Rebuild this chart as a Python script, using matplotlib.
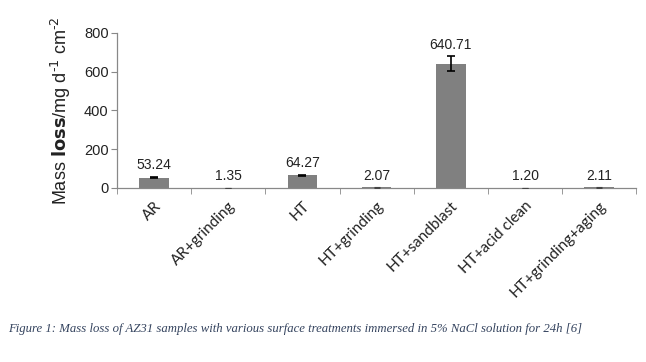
import numpy as np
import matplotlib
matplotlib.use("Agg")
import matplotlib.pyplot as plt

# data
treatments = ["AR", "AR+grinding", "HT", "HT+grinding", "HT+sandblast",
              "HT+acid clean", "HT+grinding+aging"]
mass_loss = [53.24, 1.35, 64.27, 2.07, 640.71, 1.20, 2.11]
errors = [2, 0.2, 3, 0.3, 38, 0.2, 0.5]
labels = ["53.24", "1.35", "64.27", "2.07", "640.71", "1.20", "2.11"]
yticks = [0, 200, 400, 600, 800]

fig = plt.figure(figsize=(6.46, 3.62), dpi=100)
ax = fig.add_axes([0.181, 0.481, 0.804, 0.428])

x = np.arange(len(treatments))
vals = np.array(mass_loss)
errs = np.array(errors)
big = errs > 1
ax.bar(x, vals, width=0.4, color="#808080", zorder=2)
ax.errorbar(x[big], vals[big], yerr=errs[big], fmt="none", ecolor="black",
            elinewidth=1.2, capsize=3, capthick=1.2, zorder=3)
# tiny error bars only show as a short dark dash
ax.errorbar(x[~big], vals[~big], yerr=errs[~big], fmt="none",
            ecolor="#444444", elinewidth=0.8, capsize=2, capthick=0.8, zorder=3)

for xi, v, e, lab in zip(x, mass_loss, errors, labels):
    ax.annotate(lab, (xi, v + e), xytext=(0, 3.5), textcoords="offset points",
                ha="center", va="bottom", fontsize=10,
                family="Liberation Sans", color="#222222")

ax.set_xlim(-0.5, len(treatments) - 0.5)
ax.set_ylim(0, 800)
ax.set_yticks(yticks)
ax.set_yticklabels([str(t) for t in yticks], fontsize=10.5,
                   family="Liberation Sans", color="#222222")

ax.set_xticks(x)
ax.set_xticklabels(treatments, rotation=45, ha="right", rotation_mode="anchor",
                   fontsize=11, family="Lato", color="#222222")
ax.tick_params(axis="x", which="major", length=0, pad=8)
ax.set_xticks(np.arange(-0.5, len(treatments)), minor=True)
ax.tick_params(axis="x", which="minor", length=4, color="#888888")
ax.tick_params(axis="y", length=4, color="#888888", pad=2)

for s in ["top", "right"]:
    ax.spines[s].set_visible(False)
for s in ["left", "bottom"]:
    ax.spines[s].set_color("#888888")
    ax.spines[s].set_linewidth(0.9)

ax.set_ylabel(r"Mass $\mathbf{loss}$/mg d$^{\mathsf{\text{-}1}}$ cm$^{\mathsf{\text{-}2}}$",
              fontsize=13, family="Liberation Sans", color="#222222", labelpad=8)

fig.text(0.012, 0.092, "Figure 1: Mass loss of AZ31 samples with various surface "
         "treatments immersed in 5% NaCl solution for 24h [6]",
         fontsize=9.2, family="Liberation Serif", style="italic",
         color="#34435e", va="center")

fig.savefig("out.png", dpi=100)
